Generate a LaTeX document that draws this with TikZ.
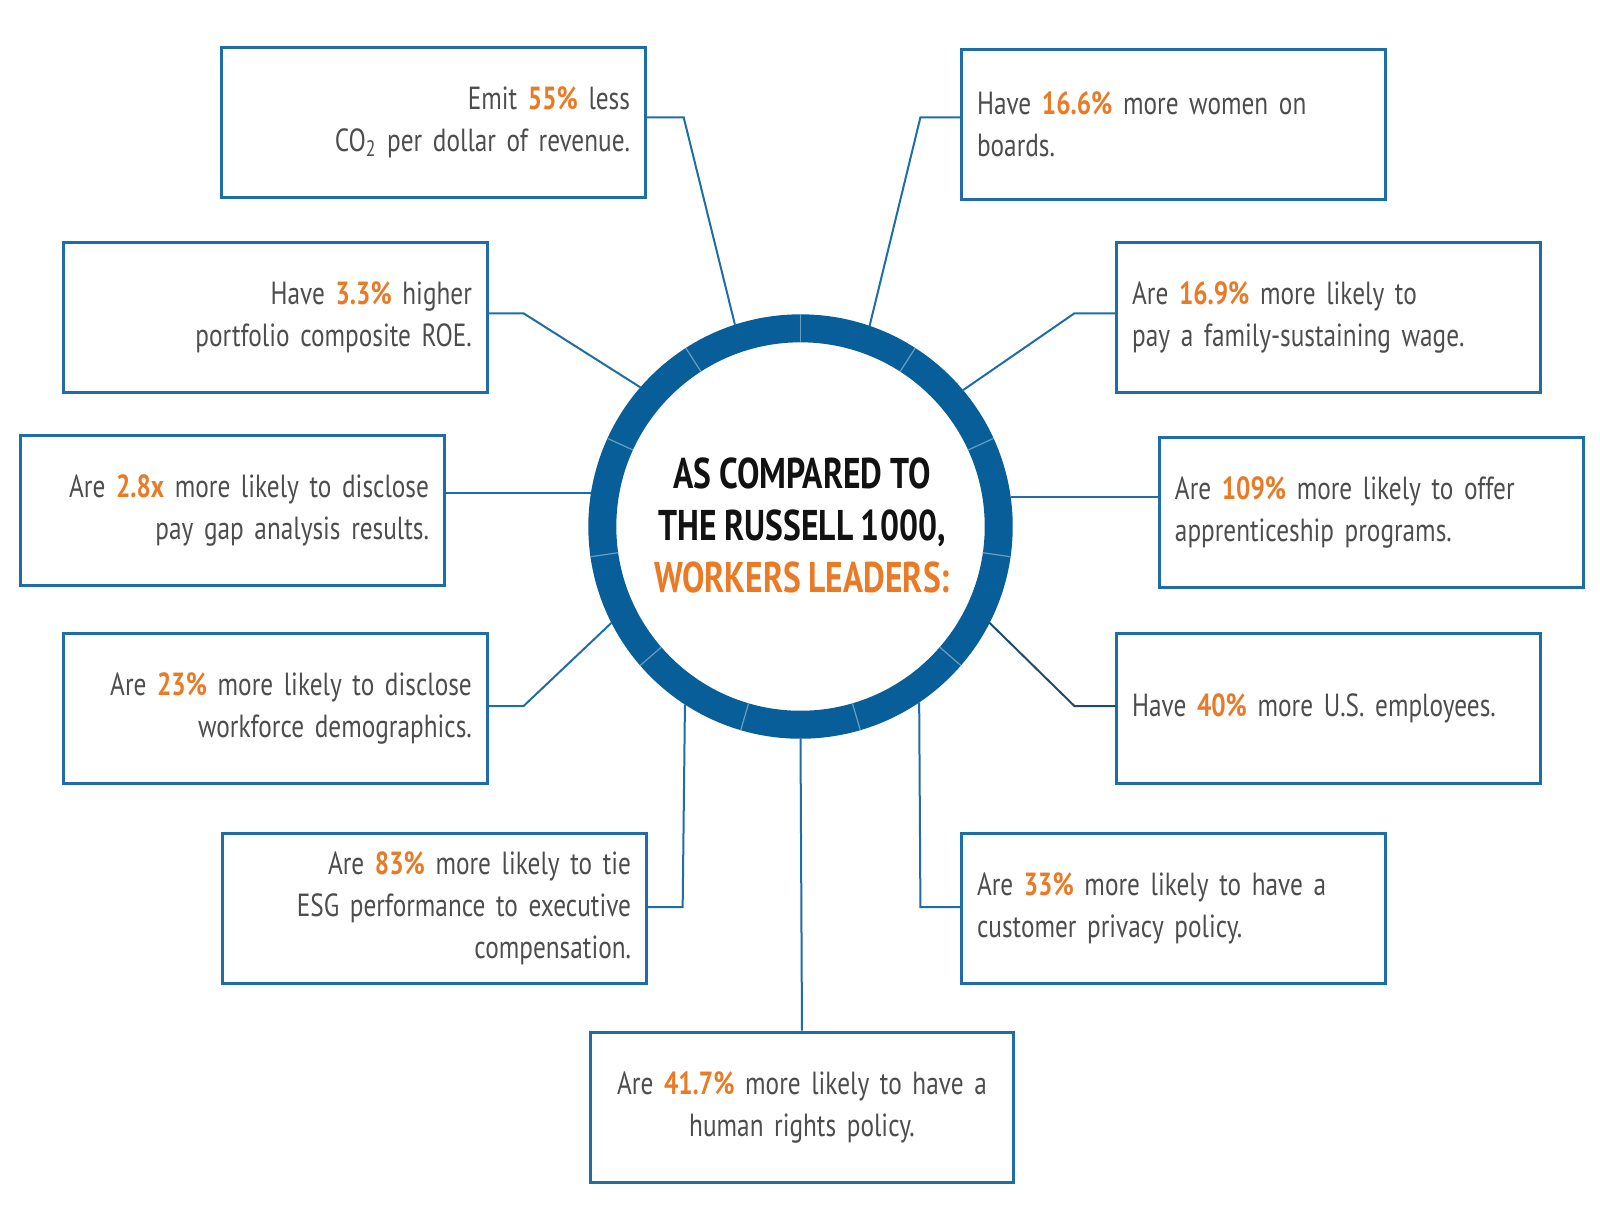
\documentclass[tikz,border=0pt]{standalone}
\usepackage{fontspec}
\setmainfont{PT Sans}[FakeStretch=0.79, WordSpace=0.85]
\newfontfamily\titlefont{PT Sans}[FakeStretch=0.78, WordSpace=0.9]
\usetikzlibrary{calc}
\definecolor{ringblue}{HTML}{075E98}
\definecolor{boxblue}{HTML}{1E6DA8}
\definecolor{navyline}{HTML}{1F4A70}
\definecolor{txtgray}{HTML}{4D4D4D}
\definecolor{hiorange}{HTML}{E97A26}
\newcommand{\hi}[1]{\textcolor{hiorange}{\bfseries #1}}
\tikzset{
  infobox/.style={draw=boxblue, line width=1.5pt, minimum height=75pt, inner xsep=7.65pt, inner ysep=0pt,
    text width=196.4pt, font=\fontsize{16}{21}\selectfont, text=txtgray, anchor=north west},
  rbox/.style={infobox, align=right},
  lbox/.style={infobox, align=left},
  cbox/.style={infobox, align=center},
  conn/.style={draw=boxblue, line width=1pt},
  divider/.style={draw=ringblue!60!white, line width=0.6pt}
}
\begin{document}
\begin{tikzpicture}[x=0.5102pt, y=-0.5102pt]
\useasboundingbox (0,0) rectangle (1568,1203.5);
% central ring
\node[circle, minimum size=212.2pt, inner sep=0pt, outer sep=0pt] (ring) at (784.5,516) {};
\draw[ringblue, line width=14pt] (ring.center) circle[radius=194.25];
\foreach \k in {0,...,10} {
  \draw[divider] ($(ring.center)+({\k*360/11-90}:180.5)$) -- ($(ring.center)+({\k*360/11-90}:208)$);
}
\node[align=center, text=black!93, font=\titlefont\bfseries\fontsize{21.5}{26}\selectfont] (title) at (786,515)
  {AS COMPARED TO\\THE RUSSELL 1000,\\\textcolor{hiorange}{WORKERS LEADERS:}};
% boxes
\node[rbox] (b1) at (216,45) {Emit \hi{55\%} less\\CO\textsubscript{2} per dollar of revenue.};
\node[lbox] (b2) at (941,47) {Have \hi{16.6\%} more women on\\boards.};
\node[rbox] (b3) at (61,236) {Have \hi{3.3\%} higher\\portfolio composite ROE.};
\node[lbox] (b4) at (1093,236) {Are \hi{16.9\%} more likely to\\pay a family-sustaining wage.};
\node[rbox] (b5) at (19,425) {Are \hi{2.8x} more likely to disclose\\pay gap analysis results.};
\node[lbox] (b6) at (1135,427) {Are \hi{109\%} more likely to offer\\apprenticeship programs.};
\node[rbox] (b7) at (61,619) {Are \hi{23\%} more likely to disclose\\workforce demographics.};
\node[lbox] (b8) at (1093,619) {Have \hi{40\%} more U.S. employees.};
\node[rbox] (b9) at (217,815) {Are \hi{83\%} more likely to tie\\ESG performance to executive\\compensation.};
\node[lbox] (b10) at (941,815) {Are \hi{33\%} more likely to have a\\customer privacy policy.};
\node[cbox] (b11) at (577,1010) {Are \hi{41.7\%} more likely to have a\\human rights policy.};
% elbows
\coordinate (e1) at (670,115);
\coordinate (e2) at (902,115);
\coordinate (e3) at (513,307);
\coordinate (e4) at (1053,307);
\coordinate (e7) at (513,692);
\coordinate (e8) at (1053,692);
\coordinate (e9) at (669,889);
\coordinate (e10) at (902,889);
% connectors
\draw[conn] (b1.east |- e1) -- (e1) -- (ring.108);
\draw[conn] (b2.west |- e2) -- (e2) -- (ring.71.3);
\draw[conn] (b3.east |- e3) -- (e3) -- (ring.139.6);
\draw[conn] (b4.west |- e4) -- (e4) -- (ring.40.2);
\draw[conn] (ring.171.7) -- (ring.171.7 -| b5.east);
\draw[conn] (ring.8.2) -- (ring.8.2 -| b6.west);
\draw[conn] (b7.east |- e7) -- (e7) -- (ring.207.7);
\draw[conn, draw=navyline] (b8.west |- e8) -- (e8) -- (ring.-27.9);
\draw[conn] (b9.east |- e9) -- (e9) -- (ring.-123.3);
\draw[conn] (b10.west |- e10) -- (e10) -- (ring.-56);
\draw[conn] (ring.south) -- (b11.north);
\end{tikzpicture}
\end{document}
